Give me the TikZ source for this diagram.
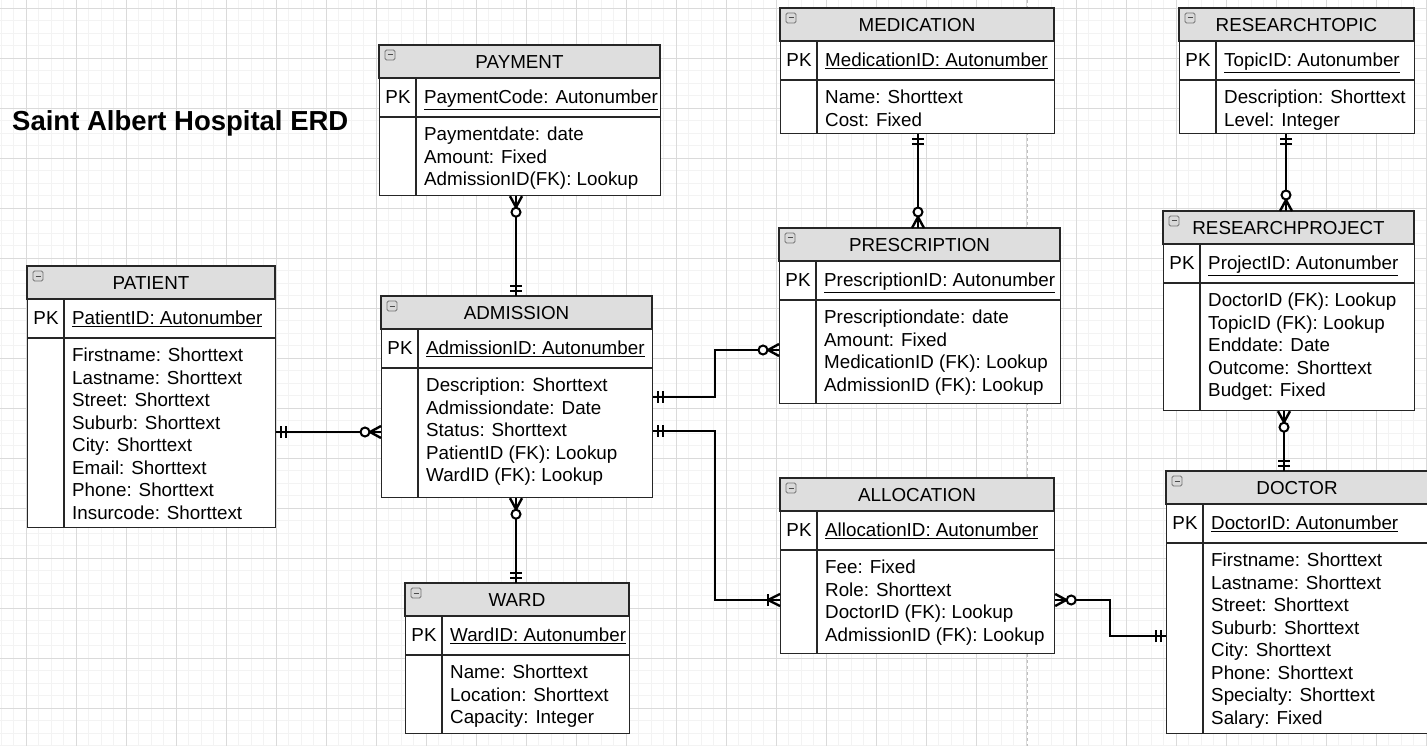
\documentclass[tikz,border=0pt]{standalone}
\usepackage{fontspec}
\setmainfont{Liberation Sans}
\usetikzlibrary{calc}
\definecolor{hdgray}{HTML}{DEDEDE}
\definecolor{minorline}{HTML}{F3F3F3}
\definecolor{majorline}{HTML}{DADADA}
\tikzset{x=1pt,y=-1pt,
every node/.style={font=\fontsize{18.8}{22.5}\selectfont,inner sep=0pt},
entbox/.style={draw=black!85,line width=1.2pt,fill=white,rectangle,inner sep=0pt},
entline/.style={draw=black!85,line width=1.2pt},
rel/.style={line width=2.4pt,line cap=butt},
pics/mandone/.style={code={
    \draw[rel] (5,-6) -- (5,6) (10,-6) -- (10,6);}},
pics/zeromany/.style={code={
    \draw[rel,line join=round] (0,-6) -- (11,0) -- (0,6);
    \draw[line width=2pt,fill=white] (16,0) circle (4.5);}},
pics/onemany/.style={code={
    \draw[rel,line join=round] (0,-6) -- (12,0) -- (0,6);
    \draw[rel] (12,-6) -- (12,6);}}
}

% #1 name, #2 x, #3 y, #4 width, #5 height of field box, #6 title, #7 key, #8 fields
\newcommand{\ertable}[8]{%
  \node[entbox,minimum width=#4,minimum height=#5+72,anchor=north west] (#1) at (#2,#3) {};
  \draw[entline,fill=hdgray] (#2,#3) rectangle ++(#4,33);
  \draw[entline] (#2,#3+72) -- ++(#4,0);
  \draw[entline] (#2+37,#3+33) -- (#2+37,#3+72+#5);
  \draw[black!55,fill=black!15,line width=.9pt,rounded corners=1.5pt] (#2+6,#3+5) rectangle ++(10,10);
  \draw[black!70,line width=1pt] (#2+8.5,#3+10) -- ++(5,0);
  \node[anchor=base] at (#2+#4/2,#3+23.6) {#6};
  \node[anchor=base] at (#2+19,#3+58.6) {PK};
  \node[anchor=base west] at (#2+45,#3+58.6) {\underline{#7}};
  \foreach \fld [count=\k] in {#8}
    \node[anchor=base west] at (#2+45,#3+73.1+\k*22.5) {\fld};
}

\begin{document}
\begin{tikzpicture}
  \useasboundingbox (0,0) rectangle (1427,746);
  \fill[white] (0,0) rectangle (1427,746);
  % background grid
  \foreach \gx in {1,13.5,...,1427} \draw[minorline,line width=.8pt] (\gx,0) -- (\gx,746);
  \foreach \gy in {-4.5,8,...,746} \draw[minorline,line width=.8pt] (0,\gy) -- (1427,\gy);
  \foreach \gx in {26,76,...,1426} \draw[majorline,line width=.8pt] (\gx,0) -- (\gx,746);
  \foreach \gy in {8,58,...,746} \draw[majorline,line width=.8pt] (0,\gy) -- (1427,\gy);
  \draw[black!25,line width=1pt,dashed] (1027,0) -- (1027,746);

  \node[anchor=base west,font=\fontsize{27.5}{32}\selectfont\bfseries] (title) at (12,130.7) {Saint Albert Hospital ERD};

  \ertable{patient}{27}{266}{248}{189}{PATIENT}{PatientID: Autonumber}{Firstname: Shorttext,Lastname: Shorttext,Street: Shorttext,Suburb: Shorttext,City: Shorttext,Email: Shorttext,Phone: Shorttext,Insurcode: Shorttext}
  \ertable{payment}{379}{45}{281}{78}{PAYMENT}{PaymentCode: Autonumber}{Paymentdate: date,Amount: Fixed,AdmissionID(FK): Lookup}
  \ertable{medication}{780}{8}{274}{53}{MEDICATION}{MedicationID: Autonumber}{Name: Shorttext,Cost: Fixed}
  \ertable{topic}{1179}{8}{235}{53}{RESEARCHTOPIC}{TopicID: Autonumber}{Description: Shorttext,Level: Integer}
  \ertable{prescription}{779}{228}{281}{103}{PRESCRIPTION}{PrescriptionID: Autonumber}{Prescriptiondate: date,Amount: Fixed,MedicationID (FK): Lookup,AdmissionID (FK): Lookup}
  \ertable{project}{1163}{211}{251}{127}{RESEARCHPROJECT}{ProjectID: Autonumber}{DoctorID (FK): Lookup,TopicID (FK): Lookup,Enddate: Date,Outcome: Shorttext,Budget: Fixed}
  \ertable{admission}{381}{296}{271}{129}{ADMISSION}{AdmissionID: Autonumber}{Description: Shorttext,Admissiondate: Date,Status: Shorttext,PatientID (FK): Lookup,WardID (FK): Lookup}
  \ertable{allocation}{780}{478}{274}{103}{ALLOCATION}{AllocationID: Autonumber}{Fee: Fixed,Role: Shorttext,DoctorID (FK): Lookup,AdmissionID (FK): Lookup}
  \ertable{doctor}{1166}{471}{262}{190}{DOCTOR}{DoctorID: Autonumber}{Firstname: Shorttext,Lastname: Shorttext,Street: Shorttext,Suburb: Shorttext,City: Shorttext,Phone: Shorttext,Specialty: Shorttext,Salary: Fixed}
  \ertable{ward}{405}{583}{224}{78}{WARD}{WardID: Autonumber}{Name: Shorttext,Location: Shorttext,Capacity: Integer}

  % relationships
  \draw[rel] (patient.east |- 0,432) -- (admission.west |- 0,432);
  \pic[rotate=0] at (patient.east |- 0,432) {mandone};
  \pic[rotate=180] at (admission.west |- 0,432) {zeromany};

  \draw[rel] (payment.south -| 516,0) -- (admission.north -| 516,0);
  \pic[rotate=-90] at (payment.south -| 516,0) {zeromany};
  \pic[rotate=90] at (admission.north -| 516,0) {mandone};

  \draw[rel] (admission.south -| 516,0) -- (ward.north -| 516,0);
  \pic[rotate=-90] at (admission.south -| 516,0) {zeromany};
  \pic[rotate=90] at (ward.north -| 516,0) {mandone};

  \draw[rel] (medication.south -| 918,0) -- (prescription.north -| 918,0);
  \pic[rotate=-90] at (medication.south -| 918,0) {mandone};
  \pic[rotate=90] at (prescription.north -| 918,0) {zeromany};

  \draw[rel] (topic.south -| 1286,0) -- (project.north -| 1286,0);
  \pic[rotate=-90] at (topic.south -| 1286,0) {mandone};
  \pic[rotate=90] at (project.north -| 1286,0) {zeromany};

  \draw[rel] (project.south -| 1284,0) -- (doctor.north -| 1284,0);
  \pic[rotate=-90] at (project.south -| 1284,0) {zeromany};
  \pic[rotate=90] at (doctor.north -| 1284,0) {mandone};

  \draw[rel] (admission.east |- 0,397) -- (715,397) |- (prescription.west |- 0,350);
  \pic[rotate=0] at (admission.east |- 0,397) {mandone};
  \pic[rotate=180] at (prescription.west |- 0,350) {zeromany};

  \draw[rel] (admission.east |- 0,431) -- (715,431) |- (allocation.west |- 0,600);
  \pic[rotate=0] at (admission.east |- 0,431) {mandone};
  \pic[rotate=180] at (allocation.west |- 0,600) {onemany};

  \draw[rel] (allocation.east |- 0,600) -- (1110,600) |- (doctor.west |- 0,636);
  \pic[rotate=0] at (allocation.east |- 0,600) {zeromany};
  \pic[rotate=180] at (doctor.west |- 0,636) {mandone};
\end{tikzpicture}
\end{document}
